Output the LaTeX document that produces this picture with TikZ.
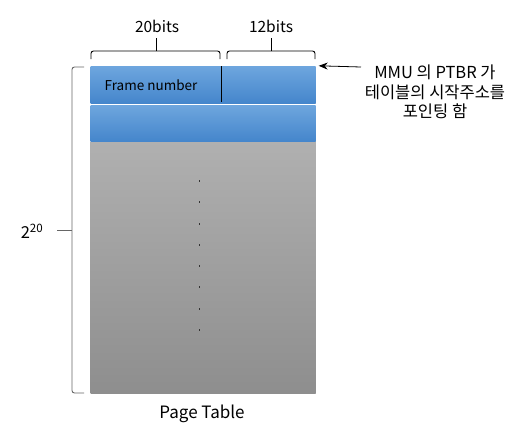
\documentclass[tikz,border=0pt]{standalone}
\usepackage{fontspec}
\setmainfont{Noto Sans CJK KR}
\usetikzlibrary{arrows.meta,shadows}
\definecolor{bluetop}{HTML}{6EA6DE}
\definecolor{bluebot}{HTML}{4586CC}
\definecolor{graytop}{HTML}{B0B0B0}
\definecolor{graybot}{HTML}{8E8E8E}
\tikzset{
  bluerow/.style={rectangle, inner sep=0pt, minimum width=225pt, top color=bluetop, bottom color=bluebot, drop shadow={shadow xshift=0.8pt, shadow yshift=-1.2pt, opacity=0.35}},
  grayrow/.style={rectangle, inner sep=0pt, minimum width=225pt, top color=graytop, bottom color=graybot, drop shadow={shadow xshift=0.8pt, shadow yshift=-1.2pt, opacity=0.35}},
  bracepath/.style={draw=black, line width=0.9pt, rounded corners=2.5pt},
  lbl/.style={font=\fontsize{15.5}{18}\selectfont, inner sep=0pt},
  dotmark/.style={rectangle, fill=black!80, inner sep=0pt, minimum size=1.8pt}
}
\begin{document}
\begin{tikzpicture}[x=1pt,y=-1pt]
\useasboundingbox (0,0) rectangle (519,434);
\node[grayrow, minimum height=252pt] (gray) at (203,267) {};
\node[bluerow, minimum height=36pt] (row2) at (203,123) {};
\node[bluerow, minimum height=37pt] (row1) at (203,84.5) {};
\coordinate (divtop) at (221,66);
\coordinate (divbot) at (221,102);
\draw[line width=0.8pt] (divtop) -- (divbot);
\node[font=\fontsize{13.5}{15}\selectfont, inner sep=0pt] (fn) at (151,85) {Frame number};
\foreach \i/\y in {0/181,1/202,2/224,3/245,4/266,5/287,6/309,7/330} {
  \node[dotmark] (d\i) at (199.5,\y) {};
}
% top braces
\draw[bracepath] (91,59) -- (91,51) -- (220,51) -- (220,59);
\draw[bracepath] (156,51) -- (156,38);
\draw[bracepath] (227,59) -- (227,51) -- (315,51) -- (315,59);
\draw[bracepath] (271,51) -- (271,38);
\node[lbl] (t20) at (157,26) {20bits};
\node[lbl] (t12) at (271,26) {12bits};
% left brace
\draw[bracepath, draw=black!60] (84,67) -- (72,67) -- (72,393) -- (84,393);
\draw[bracepath, draw=black!60] (57,230) -- (72,230);
\node[lbl, font=\fontsize{16.5}{18}\selectfont] (exp) at (32,231) {2\textsuperscript{20}};
\node[lbl, align=center, font=\fontsize{16.5}{19.8}\selectfont] (mmu) at (435,92) {MMU 의 PTBR 가\\테이블의 시작주소를\\포인팅 함};
\coordinate (arrstart) at (361,67);
\draw[-{Stealth[length=9pt,width=7pt]}, line width=0.8pt] (arrstart) -- ([xshift=3pt]row1.north east);
\node[lbl, font=\fontsize{17}{19}\selectfont] (pt) at (202,414) {Page Table};
\end{tikzpicture}
\end{document}
